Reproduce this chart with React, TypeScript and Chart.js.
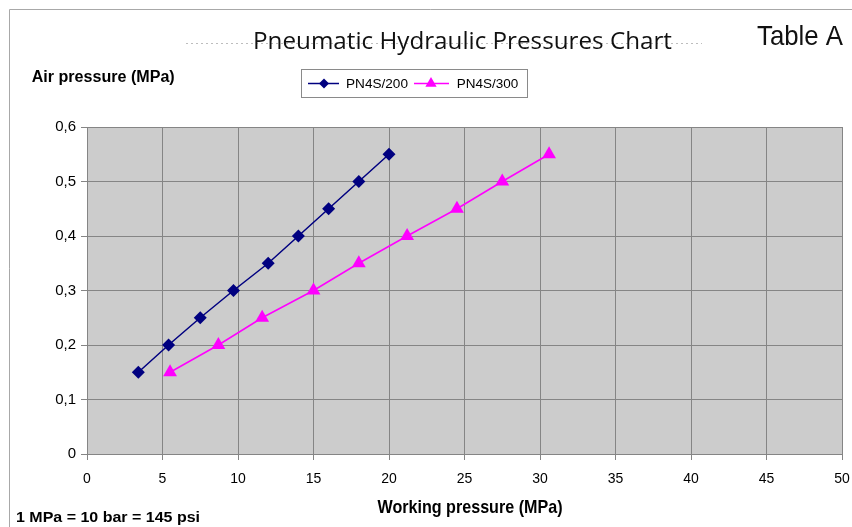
import React, { useEffect, useRef } from "react";
import { Chart, registerables } from "chart.js";

Chart.register(...registerables);

const SERIES_LABELS = ["PN4S/200", "PN4S/300"];
const PN200_X = [3.4, 5.4, 7.5, 9.7, 12, 14, 16, 18, 20];
const PN200_Y = [0.15, 0.2, 0.25, 0.3, 0.35, 0.4, 0.45, 0.5, 0.55];
const PN300_X = [5.5, 8.7, 11.6, 15, 18, 21.2, 24.5, 27.5, 30.6];
const PN300_Y = [0.15, 0.2, 0.25, 0.3, 0.35, 0.4, 0.45, 0.5, 0.55];
const X_MIN = 0, X_MAX = 50, X_STEP = 5;
const Y_MIN = 0, Y_MAX = 0.6, Y_STEP = 0.1;

const TITLE = "Pneumatic Hydraulic Pressures Chart";
const TABLE_LABEL = "Table A";
const Y_TITLE = "Air pressure (MPa)";
const X_TITLE = "Working pressure (MPa)";
const NOTE = "1 MPa = 10 bar = 145 psi";

const NAVY = "#000080";
const MAGENTA = "#ff00ff";
const SANS = '"Liberation Sans", Arial, sans-serif';

function fitText(ctx: CanvasRenderingContext2D, text: string, x: number, y: number, width: number, font: string, sy = 1, align: "left" | "center" = "left") {
  ctx.save();
  ctx.font = font;
  ctx.textBaseline = "alphabetic";
  ctx.textAlign = "left";
  const w = ctx.measureText(text).width;
  const sx = width / w;
  const x0 = align === "center" ? x - width / 2 : x;
  ctx.translate(x0, y);
  ctx.scale(sx, sy);
  ctx.fillText(text, 0, 0);
  ctx.restore();
}

function drawMarker(ctx: CanvasRenderingContext2D, style: string, x: number, y: number, r: number, color: string) {
  ctx.save();
  ctx.fillStyle = color;
  ctx.beginPath();
  if (style === "rectRot") {
    ctx.moveTo(x, y - r);
    ctx.lineTo(x + r, y);
    ctx.lineTo(x, y + r);
    ctx.lineTo(x - r, y);
  } else {
    const h = r * 1.5;
    ctx.moveTo(x, y - r);
    ctx.lineTo(x + (r * Math.sqrt(3)) / 2, y - r + h);
    ctx.lineTo(x - (r * Math.sqrt(3)) / 2, y - r + h);
  }
  ctx.closePath();
  ctx.fill();
  ctx.restore();
}

const decor = {
  id: "decor",
  beforeDraw(chart: any) {
    const { ctx, chartArea } = chart;
    const { left, top, right, bottom } = chartArea;
    ctx.save();
    ctx.fillStyle = "#ffffff";
    ctx.fillRect(0, 0, chart.width, chart.height);
    ctx.strokeStyle = "#a8a8a8";
    ctx.lineWidth = 1;
    ctx.beginPath();
    ctx.moveTo(9.5, chart.height);
    ctx.lineTo(9.5, 9.5);
    ctx.lineTo(chart.width, 9.5);
    ctx.stroke();
    ctx.fillStyle = "#cccccc";
    ctx.fillRect(left, top, right - left, bottom - top);
    // dotted guide behind title
    ctx.strokeStyle = "#bdbdbd";
    ctx.setLineDash([2, 3]);
    ctx.beginPath();
    ctx.moveTo(186, 43.5);
    ctx.lineTo(702, 43.5);
    ctx.stroke();
    ctx.setLineDash([]);
    ctx.restore();
  },
  afterDraw(chart: any) {
    const ctx: CanvasRenderingContext2D = chart.ctx;
    ctx.save();
    ctx.fillStyle = "#111111";
    fitText(ctx, TITLE, 253, 49.3, 419, '23px "Open Sans", sans-serif');
    fitText(ctx, TABLE_LABEL, 757, 45, 86, "28px " + SANS);
    ctx.fillStyle = "#000000";
    fitText(ctx, Y_TITLE, 31.7, 81.7, 143, "bold 16px " + SANS);
    fitText(ctx, X_TITLE, 470, 513.3, 185, "bold 16px " + SANS, 1.2, "center");
    fitText(ctx, NOTE, 16, 521.7, 184, "bold 15px " + SANS);

    // legend
    ctx.strokeStyle = "#8a8a8a";
    ctx.lineWidth = 1;
    ctx.strokeRect(301.5, 69.5, 226, 28);
    const ds = chart.data.datasets;
    const items = [
      { x0: 308, x1: 339, mx: 324, tx: 346, tw: 62, r: 5 },
      { x0: 414, x1: 449, mx: 431, tx: 456.7, tw: 61.5, r: 6.5 },
    ];
    items.forEach((it, i) => {
      const d = ds[i];
      ctx.strokeStyle = d.borderColor;
      ctx.lineWidth = 1.5;
      ctx.beginPath();
      ctx.moveTo(it.x0, 83.5);
      ctx.lineTo(it.x1, 83.5);
      ctx.stroke();
      drawMarker(ctx, d.pointStyle, it.mx, 83.5, it.r, d.pointBackgroundColor);
      ctx.fillStyle = "#000000";
      fitText(ctx, d.label, it.tx, 88.3, it.tw, "13px " + SANS);
    });
    ctx.restore();
  },
};

export default function App() {
  const ref = useRef<HTMLCanvasElement | null>(null);
  useEffect(() => {
    if (!ref.current) return;
    const chart = new Chart(ref.current, {
      type: "line",
      data: {
        datasets: [
          {
            label: SERIES_LABELS[0],
            data: PN200_X.map((x, i) => ({ x, y: PN200_Y[i] })),
            borderColor: NAVY,
            backgroundColor: NAVY,
            pointBackgroundColor: NAVY,
            pointBorderColor: NAVY,
            borderWidth: 1.5,
            pointStyle: "rectRot",
            pointRadius: 6.5,
            pointBorderWidth: 0,
            tension: 0,
          },
          {
            label: SERIES_LABELS[1],
            data: PN300_X.map((x, i) => ({ x, y: PN300_Y[i] })),
            borderColor: MAGENTA,
            backgroundColor: MAGENTA,
            pointBackgroundColor: MAGENTA,
            pointBorderColor: MAGENTA,
            borderWidth: 1.5,
            pointStyle: "triangle",
            pointRadius: 8,
            pointBorderWidth: 0,
            tension: 0,
          },
        ],
      },
      options: {
        responsive: false,
        animation: false,
        devicePixelRatio: 1,
        layout: { padding: { left: 37, right: 10, top: 127, bottom: 33 } },
        plugins: {
          legend: { display: false },
          title: { display: false },
          tooltip: { enabled: false },
        },
        scales: {
          x: {
            type: "linear",
            min: X_MIN,
            max: X_MAX,
            afterFit: (s: any) => { s.height = 40; s.paddingLeft = 0; s.paddingRight = 0; },
            ticks: {
              stepSize: X_STEP,
              color: "#000000",
              padding: 11,
              font: { family: SANS, size: 14 },
              maxRotation: 0,
            },
            grid: { color: "#858585", tickLength: 6, lineWidth: 1 },
            border: { color: "#858585" },
          },
          y: {
            type: "linear",
            min: Y_MIN,
            max: Y_MAX,
            afterFit: (s: any) => { s.width = 50; s.paddingTop = 0; s.paddingBottom = 0; },
            ticks: {
              stepSize: Y_STEP,
              color: "#000000",
              padding: 5,
              font: { family: SANS, size: 15 },
              callback: (v: any) => (Number(v) === 0 ? "0" : Number(v).toFixed(1).replace(".", ",")),
            },
            grid: { color: "#858585", tickLength: 6, lineWidth: 1 },
            border: { color: "#858585" },
          },
        },
      },
      plugins: [decor],
    } as any);
    return () => chart.destroy();
  }, []);
  return (
    <div style={{ position: "absolute", left: 0, top: 0, width: 852, height: 527 }}>
      <canvas ref={ref} width={852} height={527} style={{ display: "block" }} />
    </div>
  );
}
